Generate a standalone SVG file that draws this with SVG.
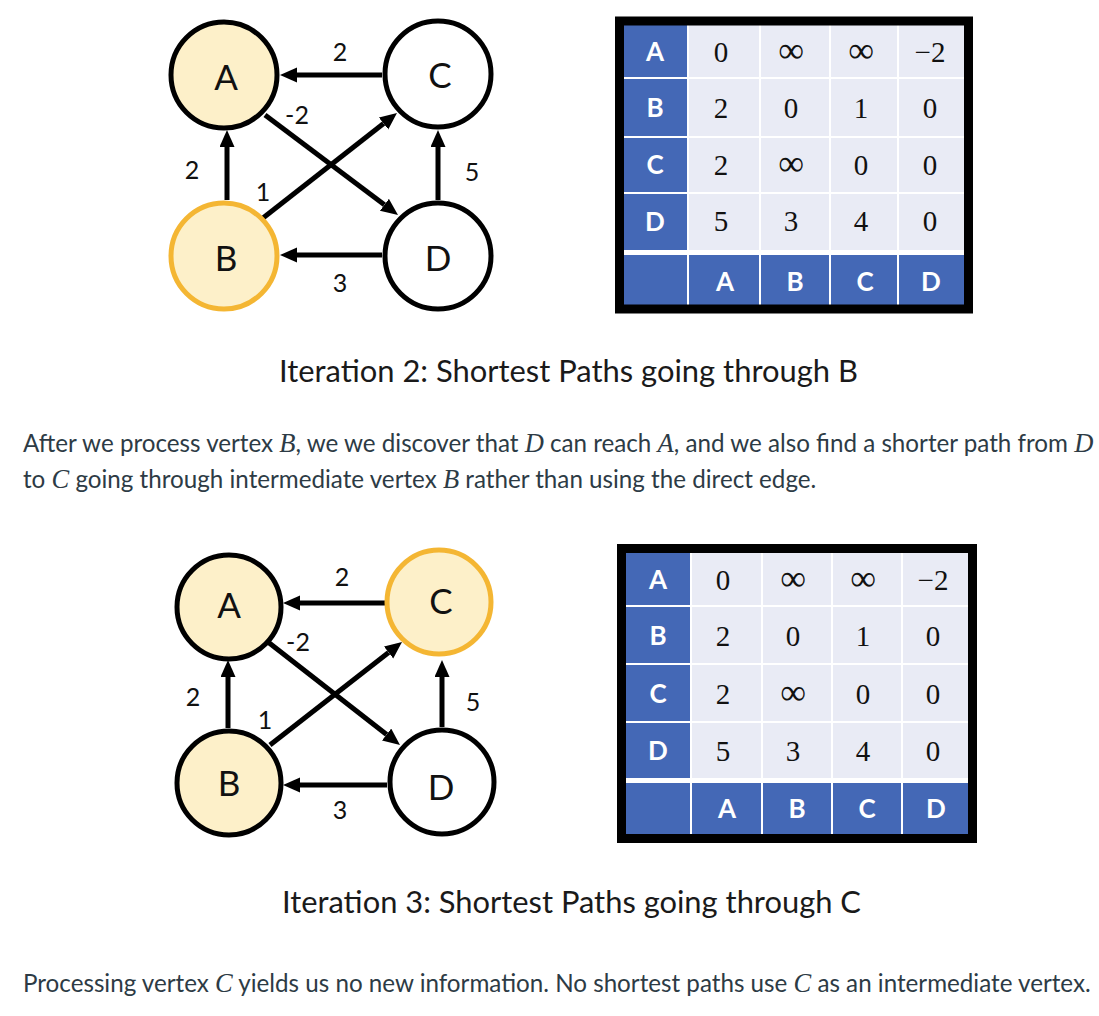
<svg xmlns="http://www.w3.org/2000/svg" width="1099" height="1016" viewBox="0 0 1099 1016">
<style>
.bg{fill:#ffffff}
.node{stroke:#000;stroke-width:5;fill:#fff}
.done{fill:#FDF0C9}
.cur{stroke:#F4B633;fill:#FDF0C9}
.nl{font-family:Lato,"Liberation Sans",sans-serif;font-size:35px;fill:#111;text-anchor:middle}
.el{font-family:Lato,"Liberation Sans",sans-serif;font-size:25px;fill:#111;text-anchor:middle}
.edge{stroke:#000;stroke-width:5;fill:none;marker-end:url(#arr)}
.light{fill:#E9EBF5}
.blue{fill:#4468B6}
.grid{stroke:#fff;stroke-width:2}
.frame{fill:none;stroke:#000;stroke-width:9}
.th{font-family:Lato,"Liberation Sans",sans-serif;font-weight:bold;font-size:26px;fill:#fff;text-anchor:middle}
.tv{font-family:"Liberation Serif","DejaVu Serif",serif;font-size:29px;fill:#111;text-anchor:middle}
.inf{font-size:36px}
.cap{font-family:Lato,"Liberation Sans",sans-serif;font-size:31px;fill:#1a1a1a}
.p{font-family:Lato,"Liberation Sans",sans-serif;font-size:24.2px;fill:#2D3B45}
.m{font-family:"Liberation Serif","DejaVu Serif",serif;font-style:italic;font-size:26.5px}
</style>
<defs>
<marker id="arr" markerUnits="userSpaceOnUse" markerWidth="18" markerHeight="16" refX="0" refY="7.5" orient="auto">
<path d="M0,0 L17,7.5 L0,15 Z" fill="#000"/>
</marker>
</defs>
<rect class="bg" x="0" y="0" width="1099" height="1016"/>

<!-- Graph 1 -->
<g id="graph1">
<g id="g1-edges">
<line class="edge" x1="382" y1="75" x2="297" y2="75"/>
<line class="edge" x1="382" y1="255" x2="297" y2="255"/>
<line class="edge" x1="227" y1="200" x2="227" y2="147"/>
<line class="edge" x1="438" y1="200" x2="438" y2="147"/>
<line class="edge" x1="265" y1="115" x2="384.4" y2="204.8"/>
<line class="edge" x1="263" y1="218" x2="383.6" y2="123.5"/>
<text class="el" x="340" y="61">2</text>
<text class="el" x="297" y="124">-2</text>
<text class="el" x="192" y="179">2</text>
<text class="el" x="263" y="201">1</text>
<text class="el" x="472" y="181">5</text>
<text class="el" x="340" y="292">3</text>
</g>
<g id="g1-A"><circle class="node done" cx="224" cy="75" r="53"/><text class="nl" x="226" y="90">A</text></g>
<g id="g1-C"><circle class="node" cx="438" cy="74" r="53"/><text class="nl" x="440" y="88">C</text></g>
<g id="g1-B"><circle class="node cur" cx="224" cy="256" r="53"/><text class="nl" x="226" y="271">B</text></g>
<g id="g1-D"><circle class="node" cx="438" cy="256" r="53"/><text class="nl" x="438" y="271">D</text></g>
</g>

<!-- Table 1 -->
<g id="table1">
<rect class="light" x="624" y="25" width="341" height="280"/>
<rect class="blue" x="624" y="25" width="64" height="225"/>
<rect class="blue" x="624" y="255" width="341" height="50"/>
<rect fill="#fff" x="624" y="250" width="341" height="5"/>
<line class="grid" x1="688" y1="25" x2="688" y2="305"/>
<line class="grid" x1="760" y1="25" x2="760" y2="305"/>
<line class="grid" x1="830" y1="25" x2="830" y2="305"/>
<line class="grid" x1="898" y1="25" x2="898" y2="305"/>
<line class="grid" x1="624" y1="78" x2="965" y2="78"/>
<line class="grid" x1="624" y1="137" x2="965" y2="137"/>
<line class="grid" x1="624" y1="193" x2="965" y2="193"/>
<rect class="frame" x="619.5" y="21" width="349" height="288"/>
<text class="th" x="655" y="61">A</text>
<text class="th" x="655" y="117">B</text>
<text class="th" x="655" y="174">C</text>
<text class="th" x="655" y="231">D</text>
<text class="th" x="725" y="291">A</text>
<text class="th" x="795" y="291">B</text>
<text class="th" x="865" y="291">C</text>
<text class="th" x="931" y="291">D</text>
<text class="tv" x="721" y="62">0</text><text class="tv inf" x="791" y="62">∞</text><text class="tv inf" x="861" y="62">∞</text><text class="tv" x="930" y="62">−2</text>
<text class="tv" x="721" y="118">2</text><text class="tv" x="791" y="118">0</text><text class="tv" x="861" y="118">1</text><text class="tv" x="930" y="118">0</text>
<text class="tv" x="721" y="175">2</text><text class="tv inf" x="791" y="175">∞</text><text class="tv" x="861" y="175">0</text><text class="tv" x="930" y="175">0</text>
<text class="tv" x="721" y="231">5</text><text class="tv" x="791" y="231">3</text><text class="tv" x="861" y="231">4</text><text class="tv" x="930" y="231">0</text>
</g>

<text class="cap" x="279" y="382" textLength="579" lengthAdjust="spacingAndGlyphs">Iteration 2: Shortest Paths going through B</text>

<text class="p" x="23" y="452">After we process vertex <tspan class="m">B</tspan>, we we discover that <tspan class="m">D</tspan> can reach <tspan class="m">A</tspan>, and we also find a shorter path from <tspan class="m">D</tspan></text>
<text class="p" x="23" y="488">to <tspan class="m">C</tspan> going through intermediate vertex <tspan class="m">B</tspan> rather than using the direct edge.</text>

<!-- Graph 2 -->
<g id="graph2">
<g id="g2-edges">
<line class="edge" x1="385" y1="603" x2="300" y2="603"/>
<line class="edge" x1="387" y1="785" x2="300" y2="785"/>
<line class="edge" x1="228" y1="728" x2="228" y2="677"/>
<line class="edge" x1="442" y1="727" x2="442" y2="677"/>
<line class="edge" x1="268" y1="642" x2="386.6" y2="734.5"/>
<line class="edge" x1="270" y1="745" x2="388.6" y2="652.5"/>
<text class="el" x="342" y="586">2</text>
<text class="el" x="298" y="651">-2</text>
<text class="el" x="193" y="706">2</text>
<text class="el" x="265" y="729">1</text>
<text class="el" x="473" y="711">5</text>
<text class="el" x="340" y="819">3</text>
</g>
<g id="g2-A"><circle class="node done" cx="229" cy="607" r="52"/><text class="nl" x="229" y="618">A</text></g>
<g id="g2-C"><circle class="node cur" cx="439" cy="602" r="52"/><text class="nl" x="441" y="614">C</text></g>
<g id="g2-B"><circle class="node done" cx="229" cy="783" r="52"/><text class="nl" x="229" y="796">B</text></g>
<g id="g2-D"><circle class="node" cx="442" cy="782" r="52"/><text class="nl" x="441" y="800">D</text></g>
</g>

<!-- Table 2 -->
<g id="table2">
<rect class="light" x="626" y="553" width="342" height="281"/>
<rect class="blue" x="626" y="553" width="65" height="225"/>
<rect class="blue" x="626" y="783" width="342" height="51"/>
<rect fill="#fff" x="626" y="778" width="342" height="5"/>
<line class="grid" x1="691" y1="553" x2="691" y2="834"/>
<line class="grid" x1="762" y1="553" x2="762" y2="834"/>
<line class="grid" x1="832" y1="553" x2="832" y2="834"/>
<line class="grid" x1="902" y1="553" x2="902" y2="834"/>
<line class="grid" x1="626" y1="606" x2="968" y2="606"/>
<line class="grid" x1="626" y1="664" x2="968" y2="664"/>
<line class="grid" x1="626" y1="722" x2="968" y2="722"/>
<rect class="frame" x="621.5" y="548.5" width="351" height="290"/>
<text class="th" x="658" y="589">A</text>
<text class="th" x="658" y="645">B</text>
<text class="th" x="658" y="703">C</text>
<text class="th" x="658" y="760">D</text>
<text class="th" x="727" y="818">A</text>
<text class="th" x="797" y="818">B</text>
<text class="th" x="867" y="818">C</text>
<text class="th" x="936" y="818">D</text>
<text class="tv" x="723" y="590">0</text><text class="tv inf" x="793" y="590">∞</text><text class="tv inf" x="863" y="590">∞</text><text class="tv" x="933" y="590">−2</text>
<text class="tv" x="723" y="646">2</text><text class="tv" x="793" y="646">0</text><text class="tv" x="863" y="646">1</text><text class="tv" x="933" y="646">0</text>
<text class="tv" x="723" y="704">2</text><text class="tv inf" x="793" y="704">∞</text><text class="tv" x="863" y="704">0</text><text class="tv" x="933" y="704">0</text>
<text class="tv" x="723" y="761">5</text><text class="tv" x="793" y="761">3</text><text class="tv" x="863" y="761">4</text><text class="tv" x="933" y="761">0</text>
</g>

<text class="cap" x="282" y="913" textLength="579" lengthAdjust="spacingAndGlyphs">Iteration 3: Shortest Paths going through C</text>

<text class="p" x="23" y="992">Processing vertex <tspan class="m">C</tspan> yields us no new information. No shortest paths use <tspan class="m">C</tspan> as an intermediate vertex.</text>
</svg>
